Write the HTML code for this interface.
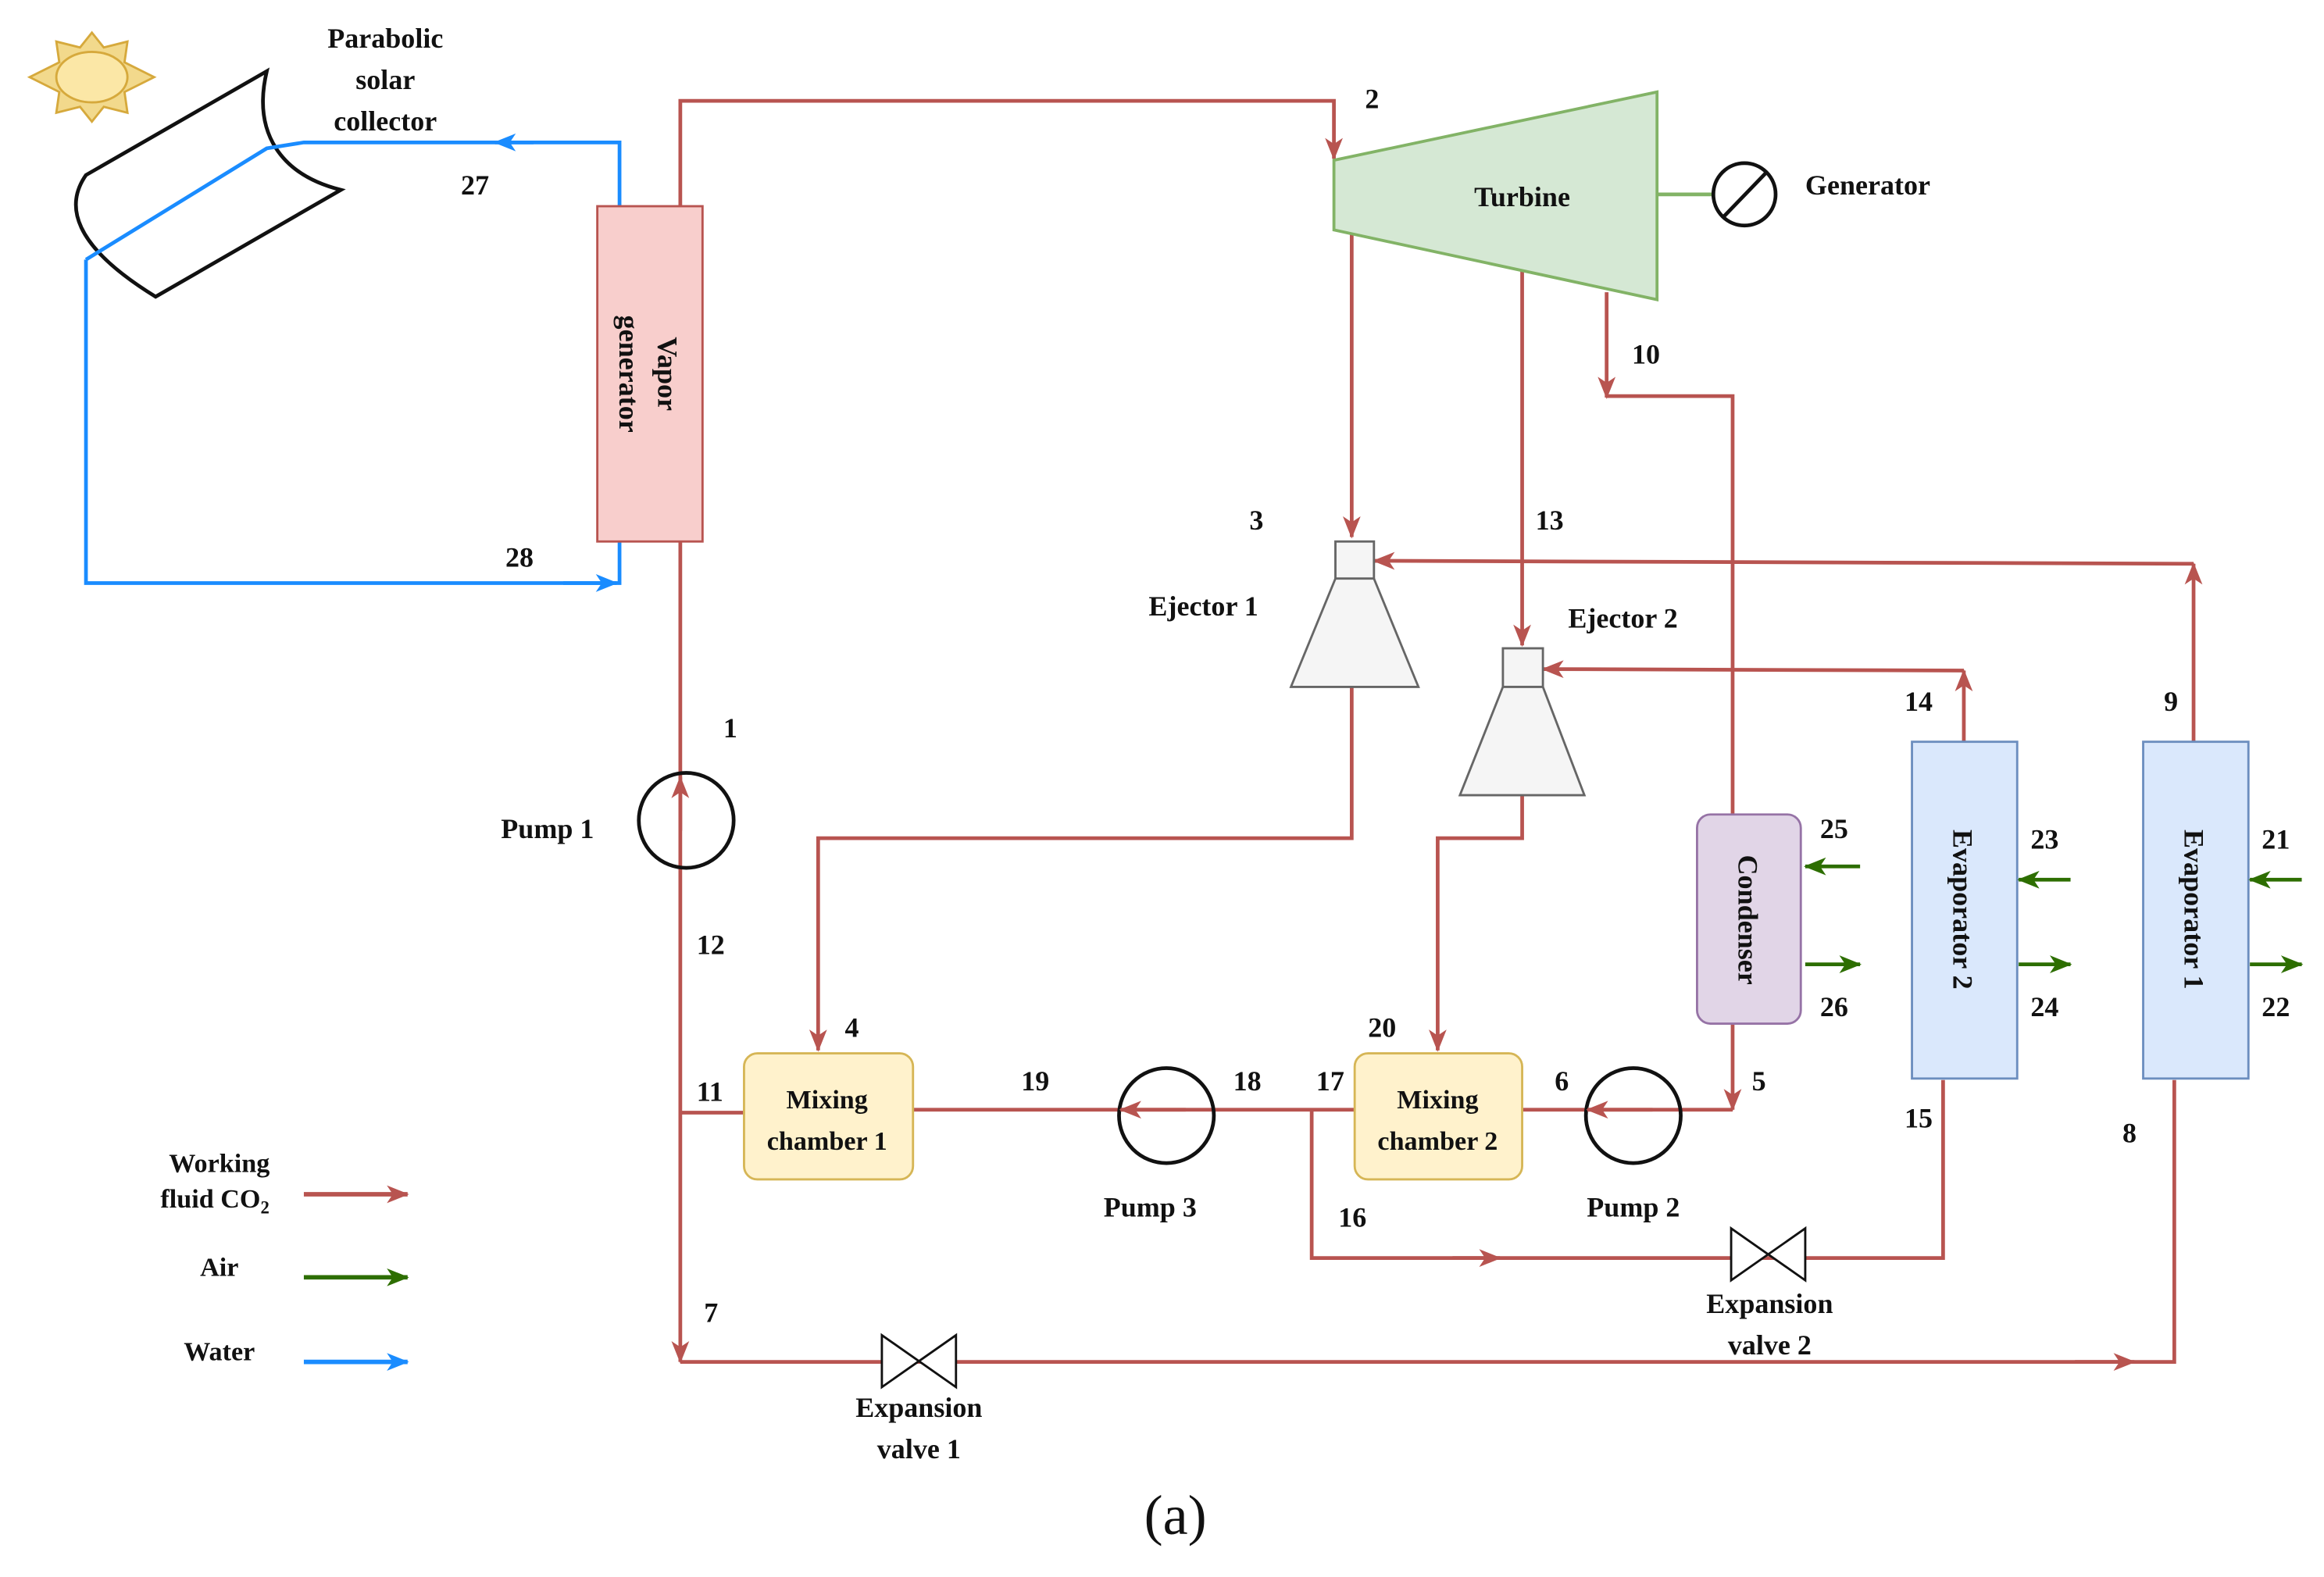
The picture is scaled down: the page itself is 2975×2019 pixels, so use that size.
<!DOCTYPE html>
<html><head><meta charset="utf-8"><style>
html,body{margin:0;padding:0;background:#fff;}
svg{display:block;}
text{font-family:"Liberation Serif","DejaVu Serif",serif;font-weight:bold;font-size:19px;fill:#111;}
</style></head><body>
<svg width="2975" height="2019" viewBox="0 0 1568 1063" preserveAspectRatio="none" xmlns="http://www.w3.org/2000/svg">
<defs>
<marker id="r" markerUnits="userSpaceOnUse" markerWidth="16" markerHeight="12" refX="14" refY="6" orient="auto"><path d="M0,0 L15,6 L0,12 L4,6 z" fill="#b85450"/></marker>
<marker id="b" markerUnits="userSpaceOnUse" markerWidth="16" markerHeight="12" refX="14" refY="6" orient="auto"><path d="M0,0 L15,6 L0,12 L4,6 z" fill="#1a8cff"/></marker>
<marker id="g" markerUnits="userSpaceOnUse" markerWidth="16" markerHeight="12" refX="14" refY="6" orient="auto"><path d="M0,0 L15,6 L0,12 L4,6 z" fill="#2d6e00"/></marker>
</defs>
<rect width="1568" height="1063" fill="#fff"/>

<g fill="#f2d98c" stroke="#d6a93c" stroke-width="1.5">
<polygon points="62,22 70,32 86,28 84,42 104,52 84,62 86,76 70,72 62,82 54,72 38,76 40,62 20,52 40,42 38,28 54,32"/>
<ellipse cx="62" cy="52" rx="24" ry="17" fill="#fbe7a6"/>
</g>
<path d="M180,48 L58,118 C44,138 48,165 105,200 L230,128 C190,118 170,90 180,48 Z" fill="#fff" stroke="#111" stroke-width="2.5"/>

<g stroke="#1a8cff" stroke-width="2.5" fill="none">
<polyline points="58,175 180,100 205,96 418,96 418,139"/>
<line x1="360" y1="96" x2="334" y2="96" marker-end="url(#b)"/>
<polyline points="418,365 418,393 58,393 58,175"/>
<line x1="380" y1="393" x2="416" y2="393" marker-end="url(#b)"/>
</g>

<g stroke="#b85450" stroke-width="2.5" fill="none">
<polyline points="459,139 459,68 900,68 900,107" marker-end="url(#r)"/>
<line x1="912" y1="155" x2="912" y2="362" marker-end="url(#r)"/>
<line x1="1027" y1="182" x2="1027" y2="435" marker-end="url(#r)"/>
<line x1="1084" y1="197" x2="1084" y2="268" marker-end="url(#r)"/>
<polyline points="1084,267 1169,267 1169,549"/>
<polyline points="1480,500 1480,380" marker-end="url(#r)"/>
<polyline points="1480,380 927,378" marker-end="url(#r)"/>
<polyline points="1325,500 1325,452" marker-end="url(#r)"/>
<polyline points="1325,452 1041,451" marker-end="url(#r)"/>
<polyline points="1169,690 1169,748" marker-end="url(#r)"/>
<polyline points="1169,748 1027,748"/>
<polyline points="912,463 912,565 552,565 552,708" marker-end="url(#r)"/>
<polyline points="1027,536 1027,565 970,565 970,708" marker-end="url(#r)"/>
<line x1="914" y1="748" x2="616" y2="748"/>
<line x1="502" y1="750" x2="459" y2="750"/>
<line x1="459" y1="365" x2="459" y2="918" marker-end="url(#r)"/>
<line x1="459" y1="560" x2="459" y2="524" marker-end="url(#r)"/>
<polyline points="459,918 1467,918 1467,728"/>
<line x1="1400" y1="918" x2="1440" y2="918" marker-end="url(#r)"/>
<polyline points="885,748 885,848 1311,848 1311,728"/>
<line x1="980" y1="848" x2="1012" y2="848" marker-end="url(#r)"/>
<line x1="1118" y1="131" x2="1155" y2="131" stroke="#82b366"/>
</g>

<g stroke="#111" stroke-width="2.5" fill="none">
<circle cx="463" cy="553" r="32"/>
<circle cx="787" cy="752" r="32"/>
<circle cx="1102" cy="752" r="32"/>
<circle cx="1177" cy="131" r="21"/>
<line x1="1163" y1="146" x2="1192" y2="116"/>
</g>
<g stroke="#b85450" stroke-width="2.5">
<line x1="800" y1="748" x2="756" y2="748" marker-end="url(#r)"/>
<line x1="1115" y1="748" x2="1071" y2="748" marker-end="url(#r)"/>
</g>

<g stroke="#111" stroke-width="1.5" fill="#fff">
<polygon points="595,900 645,935 645,900 595,935"/>
<polygon points="1168,828 1218,863 1218,828 1168,863"/>
</g>

<rect x="403" y="139" width="71" height="226" fill="#f8cecc" stroke="#b85450" stroke-width="1.5"/>
<polygon points="900,108 1118,62 1118,202 900,155" fill="#d5e8d4" stroke="#82b366" stroke-width="2"/>
<g fill="#f5f5f5" stroke="#666" stroke-width="1.5">
<rect x="901" y="365" width="26" height="25"/>
<polygon points="901,390 927,390 957,463 871,463"/>
<rect x="1014" y="437" width="27" height="26"/>
<polygon points="1014,463 1041,463 1069,536 985,536"/>
</g>
<rect x="1145" y="549" width="70" height="141" rx="9" fill="#e1d5e7" stroke="#9673a6" stroke-width="1.5"/>
<rect x="1290" y="500" width="71" height="227" fill="#dae8fc" stroke="#6c8ebf" stroke-width="1.5"/>
<rect x="1446" y="500" width="71" height="227" fill="#dae8fc" stroke="#6c8ebf" stroke-width="1.5"/>
<rect x="502" y="710" width="114" height="85" rx="9" fill="#fff2cc" stroke="#d6b656" stroke-width="1.5"/>
<rect x="914" y="710" width="113" height="85" rx="9" fill="#fff2cc" stroke="#d6b656" stroke-width="1.5"/>

<g stroke="#2d6e00" stroke-width="2.5">
<line x1="1255" y1="584" x2="1218" y2="584" marker-end="url(#g)"/>
<line x1="1218" y1="650" x2="1255" y2="650" marker-end="url(#g)"/>
<line x1="1397" y1="593" x2="1362" y2="593" marker-end="url(#g)"/>
<line x1="1362" y1="650" x2="1397" y2="650" marker-end="url(#g)"/>
<line x1="1553" y1="593" x2="1518" y2="593" marker-end="url(#g)"/>
<line x1="1518" y1="650" x2="1553" y2="650" marker-end="url(#g)"/>
</g>

<line x1="205" y1="805" x2="275" y2="805" stroke="#b85450" stroke-width="3" marker-end="url(#r)"/>
<line x1="205" y1="861" x2="275" y2="861" stroke="#2d6e00" stroke-width="3" marker-end="url(#g)"/>
<line x1="205" y1="918" x2="275" y2="918" stroke="#1a8cff" stroke-width="3" marker-end="url(#b)"/>

<g text-anchor="middle">
<text x="260" y="32">Parabolic</text><text x="260" y="60">solar</text><text x="260" y="88">collector</text>
<text x="1027" y="139">Turbine</text>
<text x="558" y="747" style="font-size:18px">Mixing</text><text x="558" y="775" style="font-size:18px">chamber 1</text>
<text x="970" y="747" style="font-size:18px">Mixing</text><text x="970" y="775" style="font-size:18px">chamber 2</text>
<text x="776" y="820">Pump 3</text>
<text x="1102" y="820">Pump 2</text>
<text x="620" y="955">Expansion</text><text x="620" y="983">valve 1</text>
<text x="1194" y="885">Expansion</text><text x="1194" y="913">valve 2</text>
<text x="148" y="790" style="font-size:18px">Working</text><text x="145" y="814" style="font-size:18px">fluid CO<tspan style="font-size:12px" dy="4">2</tspan></text>
<text x="148" y="860" style="font-size:18px">Air</text>
<text x="148" y="917" style="font-size:18px">Water</text>
<text x="793" y="1034" style="font-size:38px;font-weight:normal">(a)</text>
<text transform="translate(438,252) rotate(90)" y="-6">Vapor</text>
<text transform="translate(438,252) rotate(90)" y="20">generator</text>
<text transform="translate(1180,620) rotate(90)" y="7">Condenser</text>
<text transform="translate(1325,613) rotate(90)" y="7">Evaporator 2</text>
<text transform="translate(1481,613) rotate(90)" y="7">Evaporator 1</text>
</g>
<text x="1218" y="131">Generator</text>
<text x="775" y="415">Ejector 1</text>
<text x="1058" y="423">Ejector 2</text>
<text x="338" y="565">Pump 1</text>
<g>
<text x="921" y="73">2</text><text x="843" y="357">3</text><text x="1036" y="357">13</text>
<text x="1101" y="245">10</text><text x="1460" y="479">9</text><text x="1285" y="479">14</text>
<text x="488" y="497">1</text><text x="470" y="643">12</text><text x="470" y="742">11</text>
<text x="475" y="891">7</text><text x="570" y="699">4</text><text x="923" y="699">20</text>
<text x="689" y="735">19</text><text x="832" y="735">18</text><text x="888" y="735">17</text>
<text x="1049" y="735">6</text><text x="1182" y="735">5</text><text x="903" y="827">16</text>
<text x="1285" y="760">15</text><text x="1432" y="770">8</text>
<text x="1228" y="565">25</text><text x="1228" y="685">26</text>
<text x="1370" y="572">23</text><text x="1370" y="685">24</text>
<text x="1526" y="572">21</text><text x="1526" y="685">22</text>
<text x="311" y="131">27</text><text x="341" y="382">28</text>
</g>
</svg>
</body></html>
